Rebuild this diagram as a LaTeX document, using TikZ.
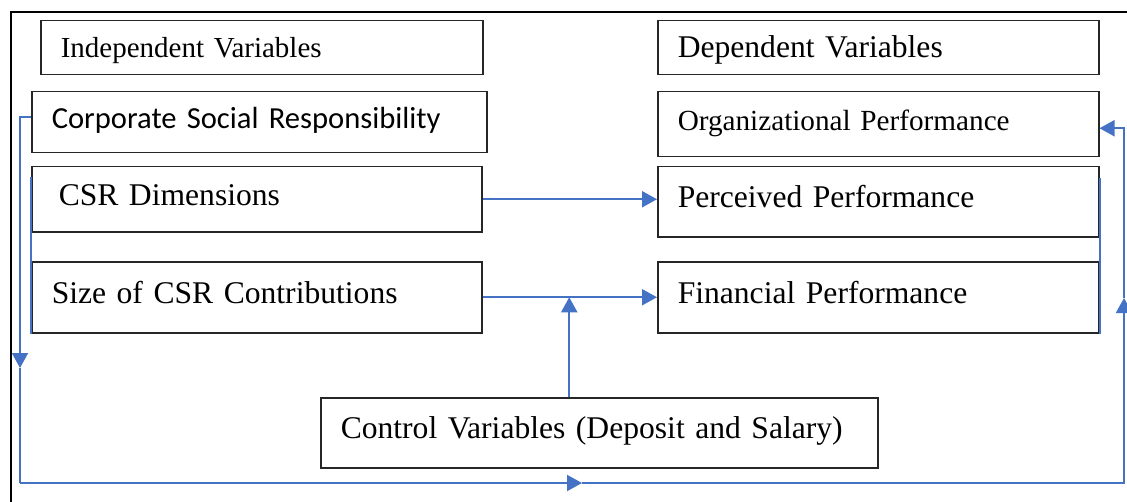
\documentclass[tikz,border=0pt]{standalone}
\usepackage{fontspec}
\setmainfont{Liberation Serif}
\newfontfamily\carlito{Carlito}
\usetikzlibrary{arrows.meta}
\definecolor{linkblue}{HTML}{4472C4}

\tikzset{
	varbox/.style={draw=black!85, line width=0.75pt, anchor=north west, inner xsep=10pt,
		align=left, text height=.8em, text depth=.2em, font=\fontsize{15.8}{19}\selectfont},
	headbox/.style={varbox, text height=1em, text depth=0pt, minimum height=27pt},
	wire/.style={draw=linkblue, line width=1pt},
	link/.style={wire, -{Triangle[length=7.5pt,width=8pt]}}
}

\begin{document}
\begin{tikzpicture}[x=0.5pt,y=-0.5pt]
		\useasboundingbox (0,0) rectangle (1127,502);
		% frame
		\draw[line width=1pt] (11,502) -- (11,12) -- (1127,12);

		% left column
		\node[headbox, text width=201pt, font=\fontsize{14.5}{17}\selectfont] (indep) at (40,20) {Independent Variables};
		\node[varbox, text width=207.5pt, minimum height=30.5pt, font=\carlito\fontsize{15.3}{18}\selectfont] (csr) at (31,91) {Corporate Social Responsibility};
		\node[varbox, inner xsep=13.5pt, text width=198pt, minimum height=32.5pt] (dims) at (31,166) {CSR Dimensions};
		\node[varbox, text width=205pt, minimum height=35.5pt] (size) at (31,261) {Size of CSR Contributions};

		% right column
		\node[headbox, text width=200.5pt] (dep) at (657,20) {Dependent Variables};
		\node[varbox, text width=200.5pt, minimum height=32.5pt, font=\fontsize{14.6}{17}\selectfont] (orgperf) at (657,91) {Organizational Performance};
		\node[varbox, text width=200.5pt, minimum height=35pt] (perc) at (657,166) {Perceived Performance};
		\node[varbox, text width=200.5pt, minimum height=35.5pt] (fin) at (657,261) {Financial Performance};

		% controls
		\node[varbox, text width=258.5pt, minimum height=35pt] (ctrl) at (320,397) {Control Variables (Deposit and Salary)};

		% direct effects
		\draw[link] (dims.east) -- (dims.east -| perc.west);
		\draw[link] (size.east) -- (size.east -| fin.west);
		\draw[link] ([xshift=-15pt]ctrl.north) -- ([xshift=-15pt]ctrl.north |- size.east);

		% group brackets
		\draw[wire] ([yshift=-5.5pt]dims.north west) -- (size.south west);
		\draw[wire] ([yshift=-6pt]perc.north east) -- (fin.south east);

		% loop round the outside
		\coordinate (bl) at (20,483);
		\coordinate (br) at (1124,483);
		\draw[link] ([yshift=2.5pt]csr.west) -| (20,368);
		\draw[wire] (20,368) -- (bl);
		\draw[link] (bl) -- (582,483);
		\draw[link] (582,483) -- (br) -- (1124,298);
		\draw[link] (1124,298) |- ([yshift=-2pt]orgperf.east);
	\end{tikzpicture}
\end{document}
